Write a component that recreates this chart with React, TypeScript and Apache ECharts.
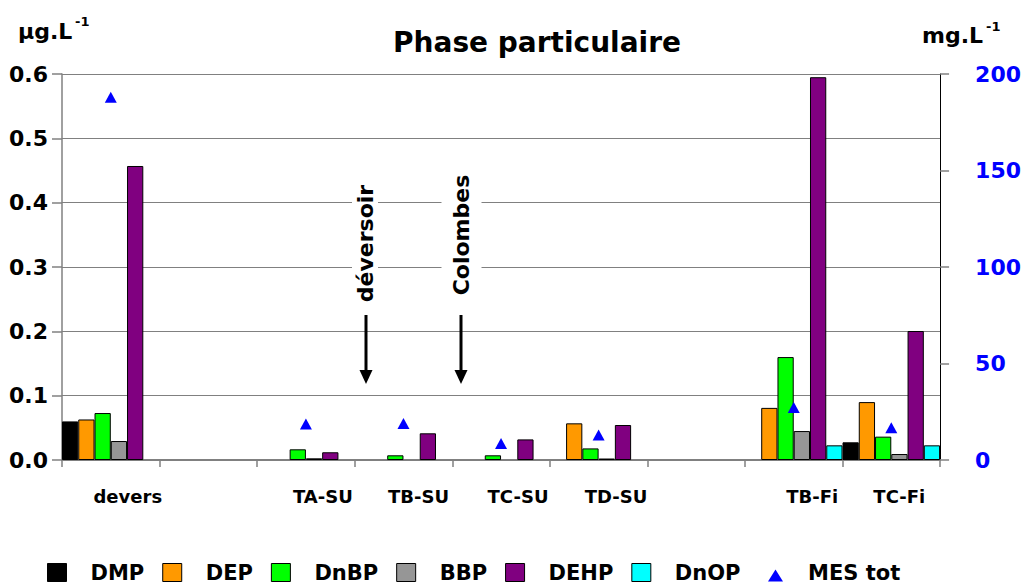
import React, { useEffect, useRef } from "react";
import * as echarts from "echarts";

const categories = ["devers", "", "TA-SU", "TB-SU", "TC-SU", "TD-SU", " ", "TB-Fi", "TC-Fi"];
const DMP: (number | string)[] = [0.06, "-", "-", "-", "-", "-", "-", "-", 0.0275];
const DEP: (number | string)[] = [0.063, "-", "-", "-", "-", 0.057, "-", 0.081, 0.09];
const DnBP: (number | string)[] = [0.073, "-", 0.0166, 0.0073, 0.0073, 0.018, "-", 0.16, 0.0363];
const BBP: (number | string)[] = [0.0295, "-", 0.0026, "-", "-", 0.0023, "-", 0.045, 0.0093];
const DEHP: (number | string)[] = [0.457, "-", 0.012, 0.0415, 0.032, 0.0544, "-", 0.595, 0.2005];
const DnOP: (number | string)[] = ["-", "-", "-", "-", "-", "-", "-", 0.0228, 0.0228];
const MES: (number | string)[] = [188, "-", 18.7, 18.9, 8.6, 13, "-", 27.2, 16.7];

const leftTicks = { min: 0, max: 0.6, interval: 0.1 };
const rightTicks = { min: 0, max: 200, interval: 50 };

// label horizontal offsets (layout only)
const labelShift = [17, 0, 17, 15, 17, 17.5, 0, 18.5, 8];

const FONT = '"DejaVu Sans"';

export default function App() {
  const ref = useRef<HTMLDivElement>(null);
  useEffect(() => {
    if (!ref.current) return;
    const chart = echarts.init(ref.current, null, { renderer: "svg" });
    const rich: any = {};
    labelShift.forEach((s, i) => {
      rich["s" + i] = {
        fontFamily: FONT,
        fontWeight: "bold",
        fontSize: 18,
        color: "#000",
        padding: [0, 0, 0, s * 2],
      };
    });
    const barSeries = [
      { name: "DMP", data: DMP, color: "#000000" },
      { name: "DEP", data: DEP, color: "#FF9900" },
      { name: "DnBP", data: DnBP, color: "#00FF00" },
      { name: "BBP", data: BBP, color: "#969696" },
      { name: "DEHP", data: DEHP, color: "#800080" },
      { name: "DnOP", data: DnOP, color: "#00FFFF" },
    ].map((s) => ({
      name: s.name,
      type: "bar",
      data: s.data,
      barGap: "0%",
      barCategoryGap: "0%",
      itemStyle: { color: s.color, borderColor: "#000", borderWidth: 1 },
    }));
    const textBold = (size: number) => `bold ${size}px ${FONT}`;
    const legendText = {
      fontFamily: FONT,
      fontWeight: "bold",
      fontSize: 21,
      lineHeight: 18,
      color: "#000",
    };
    chart.setOption({
      animation: false,
      backgroundColor: "#fff",
      grid: { left: 62, right: 81, top: 74, bottom: 125 },
      legend: [
        {
          data: barSeries.map((s) => s.name),
          left: 47,
          top: 562,
          padding: 0,
          itemWidth: 19,
          itemHeight: 18,
          itemGap: 18,
          icon: "rect",
          itemStyle: { borderColor: "#000", borderWidth: 1 },
          textStyle: { ...legendText, padding: [0, 0, 2, 19] },
          selectedMode: false,
        },
        {
          data: ["MES tot"],
          left: 768,
          top: 562,
          padding: 0,
          itemWidth: 15,
          itemHeight: 18,
          icon: "path://M0,0M7.5,6L15,18L0,18Z",
          itemStyle: { color: "#0000FF", opacity: 1, borderWidth: 0 },
          textStyle: { ...legendText, padding: [0, 0, 2, 20] },
          selectedMode: false,
        },
      ],
      xAxis: {
        type: "category",
        data: categories,
        axisLine: { lineStyle: { color: "#808080", width: 2 } },
        axisTick: { show: true, interval: 0, length: 7, lineStyle: { color: "#808080", width: 1.5 } },
        axisLabel: {
          interval: 0,
          margin: 27,
          formatter: (v: string, i: number) => (v.trim() ? `{s${i}|${v}}` : ""),
          rich,
        },
      },
      yAxis: [
        {
          type: "value",
          ...leftTicks,
          axisLine: { show: true, lineStyle: { color: "#808080", width: 1.5 } },
          axisTick: { show: true, length: 10, lineStyle: { color: "#808080", width: 1.5 } },
          splitLine: { show: true, lineStyle: { color: "#808080", width: 1 } },
          axisLabel: {
            formatter: (v: number) => v.toFixed(1),
            fontFamily: FONT,
            fontWeight: "bold",
            fontSize: 22,
            color: "#000",
            margin: 14,
          },
        },
        {
          type: "value",
          position: "right",
          ...rightTicks,
          axisLine: { show: true, lineStyle: { color: "#000", width: 1 } },
          axisTick: { show: true, length: 9, lineStyle: { color: "#808080", width: 1.5 } },
          splitLine: { show: false },
          axisLabel: {
            fontFamily: FONT,
            fontWeight: "bold",
            fontSize: 22,
            color: "#0000FF",
            margin: 35,
            padding: [10, 0, 0, 0],
          },
        },
      ],
      series: [
        ...barSeries,
        {
          name: "MES tot",
          type: "scatter",
          yAxisIndex: 1,
          data: MES,
          symbol: "triangle",
          symbolSize: [12, 11],
          itemStyle: { color: "#0000FF", opacity: 1 },
          z: 5,
        },
      ],
      graphic: [
        {
          type: "text",
          x: 537,
          y: 42,
          style: { text: "Phase particulaire", font: textBold(28), fill: "#000", align: "center", verticalAlign: "middle" },
        },
        {
          type: "text",
          x: 18,
          y: 31,
          style: { text: "µg.L", font: textBold(22), fill: "#000", align: "left", verticalAlign: "middle" },
        },
        {
          type: "text",
          x: 75,
          y: 21,
          style: { text: "-1", font: textBold(13), fill: "#000", align: "left", verticalAlign: "middle" },
        },
        {
          type: "text",
          x: 922,
          y: 35.5,
          style: { text: "mg.L", font: textBold(22), fill: "#000", align: "left", verticalAlign: "middle" },
        },
        {
          type: "text",
          x: 986,
          y: 26,
          style: { text: "-1", font: textBold(13), fill: "#000", align: "left", verticalAlign: "middle" },
        },
        {
          type: "text",
          x: 365,
          y: 243.5,
          rotation: Math.PI / 2,
          z: 10,
          style: {
            text: "déversoir",
            font: textBold(22),
            fill: "#000",
            align: "center",
            verticalAlign: "middle",
            backgroundColor: "#fff",
            padding: [2, 4],
          },
        },
        {
          type: "text",
          x: 461.5,
          y: 235,
          rotation: Math.PI / 2,
          z: 10,
          style: {
            text: "Colombes",
            font: textBold(22),
            fill: "#000",
            align: "center",
            verticalAlign: "middle",
            backgroundColor: "#fff",
            padding: [9, 4],
          },
        },
        {
          type: "line",
          z: 10,
          shape: { x1: 366, y1: 315, x2: 366, y2: 372 },
          style: { stroke: "#000", lineWidth: 3 },
        },
        {
          type: "polygon",
          z: 10,
          shape: { points: [[359.5, 370], [372.5, 370], [366, 384]] },
          style: { fill: "#000" },
        },
        {
          type: "line",
          z: 10,
          shape: { x1: 461, y1: 315, x2: 461, y2: 372 },
          style: { stroke: "#000", lineWidth: 3 },
        },
        {
          type: "polygon",
          z: 10,
          shape: { points: [[454.5, 370], [467.5, 370], [461, 384]] },
          style: { fill: "#000" },
        },
      ],
    });
    return () => chart.dispose();
  }, []);
  return (
    <div
      ref={ref}
      style={{ position: "fixed", left: 0, top: 0, width: 1024, height: 585, background: "#fff" }}
    />
  );
}
